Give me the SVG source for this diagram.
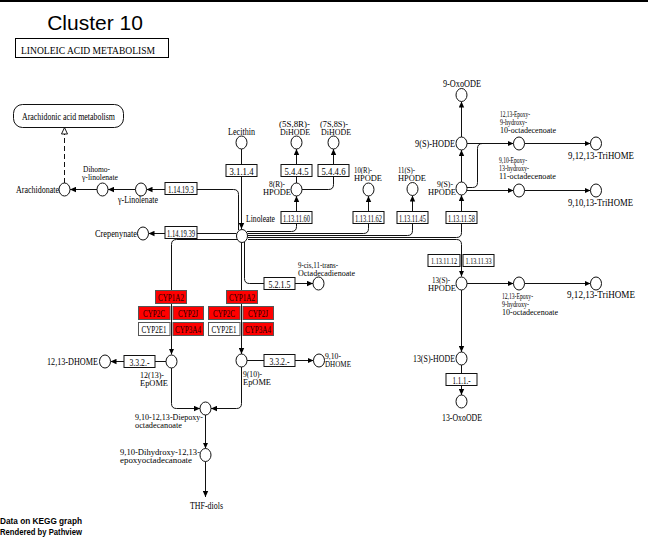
<svg xmlns="http://www.w3.org/2000/svg" width="648" height="544" viewBox="0 0 648 544">
<defs>
<marker id="ah" viewBox="0 0 6 6" refX="6" refY="3" markerWidth="6" markerHeight="6" markerUnits="userSpaceOnUse" orient="auto"><path d="M0,0.3 L6,3 L0,5.7 z" fill="#000"/></marker>
<marker id="oa" viewBox="0 0 8 8" refX="7.5" refY="4" markerWidth="8" markerHeight="8" markerUnits="userSpaceOnUse" orient="auto"><path d="M1,1 L7.5,4 L1,7 z" fill="#fff" stroke="#000" stroke-width="0.9"/></marker>
<style>
.ln{fill:none;stroke:#111;stroke-width:1}
.arr{marker-end:url(#ah)}
.dash{stroke-dasharray:5,3;marker-end:url(#oa)}
.cpd{fill:#fff;stroke:#111;stroke-width:1}
.ec{fill:#fff;stroke:#111;stroke-width:1}
.hit{fill:#ff0000;stroke:#555;stroke-width:1}
.nohit{fill:#fff;stroke:#555;stroke-width:1}
.t{font-family:"Liberation Serif","Times New Roman",serif;font-size:8px;fill:#000}
.s{font-size:9.5px}
.et{font-family:"Liberation Serif","Times New Roman",serif;font-size:10px;fill:#000;text-anchor:middle}
.et.sm{font-size:7.5px}
.ct{font-family:"Liberation Serif","Times New Roman",serif;font-size:10px;fill:#200;text-anchor:middle}
.hdr{font-family:"Liberation Serif","Times New Roman",serif;font-size:10px;fill:#000}
.credit{font-family:"Liberation Sans",Arial,sans-serif;font-size:8.5px;font-weight:bold;fill:#000}
</style>
</defs>
<rect x="0" y="0" width="648" height="544" fill="#fff"/>
<line x1="0" y1="1" x2="648" y2="1" stroke="#000" stroke-width="2"/>
<g id="title">
<text x="95" y="30" font-family="Liberation Sans, Arial, sans-serif" font-size="21" text-anchor="middle">Cluster 10</text>
<rect x="15.5" y="38.5" width="153" height="19" fill="#fff" stroke="#000"/>
<text x="21" y="54" class="hdr" textLength="134" lengthAdjust="spacingAndGlyphs">LINOLEIC ACID METABOLISM</text>
</g>

<g id="connectors">
<path class="ln arr" d="M241.5,149 V229"/>
<path class="ln arr" d="M238.5,230 V194.5 Q238.5,189.5 233.5,189.5 H146.5"/>
<path class="ln arr" d="M236.5,233.5 H148.5"/>
<path class="ln arr" d="M135.5,189.5 H108"/>
<path class="ln arr" d="M97,189.5 H70"/>
<path class="ln dash" d="M64.5,183 V127.5"/>
<path class="ln arr" d="M237,239.5 H176.5 Q171.5,239.5 171.5,244.5 V354.5"/>
<path class="ln arr" d="M241.5,243 V354"/>
<path class="ln arr" d="M244.5,242 V278.5 Q244.5,283.5 249.5,283.5 H313"/>
<path class="ln arr" d="M166,361.5 H110.5"/>
<path class="ln arr" d="M247,360.5 H313.5"/>
<path class="ln arr" d="M171.5,368 V403.5 Q171.5,408.5 176.5,408.5 H200"/>
<path class="ln arr" d="M241.5,367 V403.5 Q241.5,408.5 236.5,408.5 H211"/>
<path class="ln arr" d="M205.5,415 V448.5"/>
<path class="ln arr" d="M205.5,461.5 V497"/>
<path class="ln arr" d="M247,231.5 H291.5 Q296.5,231.5 296.5,226.5 V196"/>
<path class="ln arr" d="M296.5,183 V149"/>
<path class="ln arr" d="M302,189.5 H328.5 Q333.5,189.5 333.5,184.5 V149"/>
<path class="ln arr" d="M247.5,233.5 H363.5 Q368.5,233.5 368.5,228.5 V196"/>
<path class="ln arr" d="M248,235.5 H407.5 Q412.5,235.5 412.5,230.5 V195.5"/>
<path class="ln arr" d="M248,237.5 H456.5 Q461.5,237.5 461.5,232.5 V195"/>
<path class="ln arr" d="M248,239.5 H456.5 Q461.5,239.5 461.5,244.5 V276.5"/>
<path class="ln arr" d="M461.5,182 V150"/>
<path class="ln arr" d="M461.5,137 V101.5"/>
<path class="ln arr" d="M467,143.5 H513.5"/>
<path class="ln" d="M467,187.5 H472.5 Q477.5,187.5 477.5,182.5 V148.5 Q477.5,143.5 482.5,143.5"/>
<path class="ln arr" d="M467,190.5 H513.5"/>
<path class="ln arr" d="M524.5,143.5 H590.5"/>
<path class="ln arr" d="M524.5,190.5 H590.5"/>
<path class="ln arr" d="M467,283.5 H513.5"/>
<path class="ln arr" d="M524.5,283.5 H590.5"/>
<path class="ln arr" d="M461.5,290 V352"/>
<path class="ln arr" d="M461.5,365 V395"/>
</g>

<g id="map-arachidonic">
<rect x="13.5" y="104.5" width="110" height="23" rx="9" ry="9" fill="#fff" stroke="#111"/>
<text x="22" y="119.5" class="t s" textLength="93" lengthAdjust="spacingAndGlyphs">Arachidonic acid metabolism</text>
</g>

<g id="ec-3.1.1.4"><rect class="ec" x="226" y="164.5" width="31" height="12"/><text class="et" x="241.5" y="174.5" textLength="24" lengthAdjust="spacingAndGlyphs">3.1.1.4</text></g>
<g id="ec-5.4.4.5"><rect class="ec" x="281" y="164.5" width="31" height="12"/><text class="et" x="296.5" y="174.5" textLength="24" lengthAdjust="spacingAndGlyphs">5.4.4.5</text></g>
<g id="ec-5.4.4.6"><rect class="ec" x="318" y="164.5" width="31" height="12"/><text class="et" x="333.5" y="174.5" textLength="24" lengthAdjust="spacingAndGlyphs">5.4.4.6</text></g>
<g id="ec-1.13.11.60"><rect class="ec" x="281" y="211.5" width="31" height="12"/><text class="et" x="296.5" y="221.5" textLength="27" lengthAdjust="spacingAndGlyphs">1.13.11.60</text></g>
<g id="ec-1.13.11.62"><rect class="ec" x="353" y="211.5" width="31" height="12"/><text class="et" x="368.5" y="221.5" textLength="27" lengthAdjust="spacingAndGlyphs">1.13.11.62</text></g>
<g id="ec-1.13.11.45"><rect class="ec" x="397" y="211.5" width="31" height="12"/><text class="et" x="412.5" y="221.5" textLength="27" lengthAdjust="spacingAndGlyphs">1.13.11.45</text></g>
<g id="ec-1.13.11.58"><rect class="ec" x="446" y="211.5" width="31" height="12"/><text class="et" x="461.5" y="221.5" textLength="27" lengthAdjust="spacingAndGlyphs">1.13.11.58</text></g>
<g id="ec-1.13.11.12"><rect class="ec" x="428" y="254.5" width="32" height="12" stroke="#555"/><text class="et sm" x="444" y="263.5" textLength="26" lengthAdjust="spacingAndGlyphs">1.13.11.12</text></g>
<g id="ec-1.13.11.33"><rect class="ec" x="463" y="254.5" width="31" height="12" stroke="#555"/><text class="et sm" x="478.5" y="263.5" textLength="26" lengthAdjust="spacingAndGlyphs">1.13.11.33</text></g>
<g id="ec-1.1.1.-"><rect class="ec" x="446" y="373.5" width="31" height="12"/><text class="et" x="461.5" y="383.5" textLength="18" lengthAdjust="spacingAndGlyphs">1.1.1.-</text></g>
<g id="ec-1.14.19.3"><rect class="ec" x="165" y="182.5" width="32" height="12"/><text class="et" x="181" y="192.5" textLength="26" lengthAdjust="spacingAndGlyphs">1.14.19.3</text></g>
<g id="ec-1.14.19.39"><rect class="ec" x="165" y="226.5" width="32" height="12"/><text class="et" x="181" y="236.5" textLength="28" lengthAdjust="spacingAndGlyphs">1.14.19.39</text></g>
<g id="ec-5.2.1.5"><rect class="ec" x="264" y="277.5" width="31" height="12"/><text class="et" x="279.5" y="287.5" textLength="22" lengthAdjust="spacingAndGlyphs">5.2.1.5</text></g>
<g id="ec-3.3.2.-a"><rect class="ec" x="124" y="355.5" width="31" height="12"/><text class="et" x="139.5" y="365.5" textLength="20" lengthAdjust="spacingAndGlyphs">3.3.2.-</text></g>
<g id="ec-3.3.2.-b"><rect class="ec" x="264" y="354.5" width="31" height="12"/><text class="et" x="279.5" y="364.5" textLength="20" lengthAdjust="spacingAndGlyphs">3.3.2.-</text></g>

<g id="cyp-left">
<rect class="hit" x="155.5" y="290.5" width="31" height="13"/><text class="ct" x="171" y="300.5" textLength="26" lengthAdjust="spacingAndGlyphs">CYP1A2</text>
<rect class="hit" x="138.5" y="306.5" width="31.5" height="13"/><text class="ct" x="154" y="316.5" textLength="22" lengthAdjust="spacingAndGlyphs">CYP2C</text>
<rect class="hit" x="173" y="306.5" width="30.5" height="13"/><text class="ct" x="188" y="316.5" textLength="20" lengthAdjust="spacingAndGlyphs">CYP2J</text>
<rect class="nohit" x="138.5" y="322.5" width="31.5" height="13"/><text class="et" x="154" y="332.5" textLength="25" lengthAdjust="spacingAndGlyphs">CYP2E1</text>
<rect class="hit" x="173" y="322.5" width="30.5" height="13"/><text class="ct" x="188" y="332.5" textLength="26" lengthAdjust="spacingAndGlyphs">CYP3A4</text>
</g>
<g id="cyp-right">
<rect class="hit" x="226.5" y="290.5" width="31" height="13"/><text class="ct" x="242" y="300.5" textLength="26" lengthAdjust="spacingAndGlyphs">CYP1A2</text>
<rect class="hit" x="208.5" y="306.5" width="31.5" height="13"/><text class="ct" x="224" y="316.5" textLength="22" lengthAdjust="spacingAndGlyphs">CYP2C</text>
<rect class="hit" x="243" y="306.5" width="30.5" height="13"/><text class="ct" x="258" y="316.5" textLength="20" lengthAdjust="spacingAndGlyphs">CYP2J</text>
<rect class="nohit" x="208.5" y="322.5" width="31.5" height="13"/><text class="et" x="224" y="332.5" textLength="25" lengthAdjust="spacingAndGlyphs">CYP2E1</text>
<rect class="hit" x="243" y="322.5" width="30.5" height="13"/><text class="ct" x="258" y="332.5" textLength="26" lengthAdjust="spacingAndGlyphs">CYP3A4</text>
</g>

<g id="lecithin"><ellipse class="cpd" cx="241.5" cy="142.5" rx="5.5" ry="6.5"/><text class="t s" x="228" y="135" textLength="27" lengthAdjust="spacingAndGlyphs">Lecithin</text></g>
<g id="dihode-5s8r"><ellipse class="cpd" cx="296.5" cy="142.5" rx="5.5" ry="6.5"/><text class="t" x="279" y="127" textLength="31" lengthAdjust="spacingAndGlyphs">(5S,8R)-</text><text class="t" x="280" y="135" textLength="30" lengthAdjust="spacingAndGlyphs">DiHODE</text></g>
<g id="dihode-7s8s"><ellipse class="cpd" cx="333.5" cy="142.5" rx="5.5" ry="6.5"/><text class="t" x="320" y="127" textLength="28" lengthAdjust="spacingAndGlyphs">(7S,8S)-</text><text class="t" x="321" y="135" textLength="30" lengthAdjust="spacingAndGlyphs">DiHODE</text></g>
<g id="hpode-8r"><ellipse class="cpd" cx="296.5" cy="189.5" rx="5.5" ry="6.5"/><text class="t" x="269" y="186.5" textLength="16" lengthAdjust="spacingAndGlyphs">8(R)-</text><text class="t" x="263" y="195" textLength="28" lengthAdjust="spacingAndGlyphs">HPODE</text></g>
<g id="hpode-10r"><ellipse class="cpd" cx="368.5" cy="189.5" rx="5.5" ry="6.5"/><text class="t" x="354" y="173" textLength="18" lengthAdjust="spacingAndGlyphs">10(R)-</text><text class="t" x="354" y="181" textLength="28" lengthAdjust="spacingAndGlyphs">HPODE</text></g>
<g id="hpode-11s"><ellipse class="cpd" cx="412.5" cy="189" rx="5.5" ry="6.5"/><text class="t" x="398" y="173" textLength="17" lengthAdjust="spacingAndGlyphs">11(S)-</text><text class="t" x="398" y="181" textLength="28" lengthAdjust="spacingAndGlyphs">HPODE</text></g>
<g id="hpode-9s"><ellipse class="cpd" cx="461.5" cy="188.5" rx="5.5" ry="6.5"/><text class="t" x="437" y="186.5" textLength="16" lengthAdjust="spacingAndGlyphs">9(S)-</text><text class="t" x="428" y="195" textLength="28" lengthAdjust="spacingAndGlyphs">HPODE</text></g>
<g id="hode-9s"><ellipse class="cpd" cx="461.5" cy="143.5" rx="5.5" ry="6.5"/><text class="t s" x="415" y="147" textLength="40" lengthAdjust="spacingAndGlyphs">9(S)-HODE</text></g>
<g id="oxoode-9"><ellipse class="cpd" cx="461.5" cy="95" rx="5.5" ry="6.5"/><text class="t s" x="443" y="87" textLength="38" lengthAdjust="spacingAndGlyphs">9-OxoODE</text></g>
<g id="epoxy-9-hydroxy-a"><ellipse class="cpd" cx="519" cy="143.5" rx="5.5" ry="6.5"/><text class="t" x="500" y="117" textLength="30" lengthAdjust="spacingAndGlyphs">12,13-Epoxy-</text><text class="t" x="500" y="125" textLength="27" lengthAdjust="spacingAndGlyphs">9-hydroxy-</text><text class="t" x="500" y="133" textLength="56" lengthAdjust="spacingAndGlyphs">10-octadecenoate</text></g>
<g id="trihome-a"><ellipse class="cpd" cx="596" cy="143.5" rx="5.5" ry="6.5"/><text class="t s" x="568" y="159" textLength="66" lengthAdjust="spacingAndGlyphs">9,12,13-TriHOME</text></g>
<g id="epoxy-13-hydroxy"><ellipse class="cpd" cx="519" cy="190.5" rx="5.5" ry="6.5"/><text class="t" x="499" y="163" textLength="28" lengthAdjust="spacingAndGlyphs">9,10-Epoxy-</text><text class="t" x="499" y="171" textLength="30" lengthAdjust="spacingAndGlyphs">13-hydroxy-</text><text class="t" x="499" y="179" textLength="57" lengthAdjust="spacingAndGlyphs">11-octadecenoate</text></g>
<g id="trihome-b"><ellipse class="cpd" cx="596" cy="190.5" rx="5.5" ry="6.5"/><text class="t s" x="568" y="206" textLength="65" lengthAdjust="spacingAndGlyphs">9,10,13-TriHOME</text></g>
<g id="linoleate"><ellipse class="cpd" cx="242" cy="236" rx="5.5" ry="6.5"/><text class="t s" x="246" y="222" textLength="29" lengthAdjust="spacingAndGlyphs">Linoleate</text></g>
<g id="arachidonate"><ellipse class="cpd" cx="64.5" cy="189.5" rx="5.5" ry="6.5"/><text class="t s" x="16" y="193" textLength="43" lengthAdjust="spacingAndGlyphs">Arachidonate</text></g>
<g id="dihomo-linolenate"><ellipse class="cpd" cx="102.5" cy="189.5" rx="5.5" ry="6.5"/><text class="t" x="83" y="172" textLength="27" lengthAdjust="spacingAndGlyphs">Dihomo-</text><text class="t" x="82" y="180" textLength="36" lengthAdjust="spacingAndGlyphs">γ-linolenate</text></g>
<g id="gamma-linolenate"><ellipse class="cpd" cx="141" cy="189.5" rx="5.5" ry="6.5"/><text class="t s" x="118" y="203" textLength="40" lengthAdjust="spacingAndGlyphs">γ-Linolenate</text></g>
<g id="crepenynate"><ellipse class="cpd" cx="143" cy="233.5" rx="5.5" ry="6.5"/><text class="t s" x="95" y="237" textLength="42" lengthAdjust="spacingAndGlyphs">Crepenynate</text></g>
<g id="octadecadienoate"><ellipse class="cpd" cx="318.5" cy="283.5" rx="5.5" ry="6.5"/><text class="t" x="298" y="267.5" textLength="40" lengthAdjust="spacingAndGlyphs">9-cis,11-trans-</text><text class="t" x="298" y="275.5" textLength="57" lengthAdjust="spacingAndGlyphs">Octadecadienoate</text></g>
<g id="hpode-13s"><ellipse class="cpd" cx="461.5" cy="283.5" rx="5.5" ry="6.5"/><text class="t" x="432" y="282.5" textLength="18" lengthAdjust="spacingAndGlyphs">13(S)-</text><text class="t" x="428" y="290.5" textLength="28" lengthAdjust="spacingAndGlyphs">HPODE</text></g>
<g id="epoxy-9-hydroxy-b"><ellipse class="cpd" cx="519" cy="283.5" rx="5.5" ry="6.5"/><text class="t" x="502" y="298.5" textLength="31" lengthAdjust="spacingAndGlyphs">12,13-Epoxy-</text><text class="t" x="502" y="306.5" textLength="27" lengthAdjust="spacingAndGlyphs">9-hydroxy-</text><text class="t" x="502" y="314.5" textLength="56" lengthAdjust="spacingAndGlyphs">10-octadecenoate</text></g>
<g id="trihome-c"><ellipse class="cpd" cx="596" cy="283.5" rx="5.5" ry="6.5"/><text class="t s" x="567" y="297.5" textLength="68" lengthAdjust="spacingAndGlyphs">9,12,13-TriHOME</text></g>
<g id="hode-13s"><ellipse class="cpd" cx="461.5" cy="358.5" rx="5.5" ry="6.5"/><text class="t s" x="413" y="362" textLength="42" lengthAdjust="spacingAndGlyphs">13(S)-HODE</text></g>
<g id="oxoode-13"><ellipse class="cpd" cx="461.5" cy="401.5" rx="5.5" ry="6.5"/><text class="t s" x="442" y="421" textLength="40" lengthAdjust="spacingAndGlyphs">13-OxoODE</text></g>
<g id="epome-12-13"><ellipse class="cpd" cx="171.5" cy="361.5" rx="5.5" ry="6.5"/><text class="t" x="140" y="378" textLength="24" lengthAdjust="spacingAndGlyphs">12(13)-</text><text class="t" x="140" y="386" textLength="28" lengthAdjust="spacingAndGlyphs">EpOME</text></g>
<g id="epome-9-10"><ellipse class="cpd" cx="241.5" cy="360.5" rx="5.5" ry="6.5"/><text class="t" x="243" y="377" textLength="19" lengthAdjust="spacingAndGlyphs">9(10)-</text><text class="t" x="243" y="385" textLength="28" lengthAdjust="spacingAndGlyphs">EpOME</text></g>
<g id="dhome-12-13"><ellipse class="cpd" cx="105" cy="361.5" rx="5.5" ry="6.5"/><text class="t s" x="47" y="365" textLength="51" lengthAdjust="spacingAndGlyphs">12,13-DHOME</text></g>
<g id="dhome-9-10"><ellipse class="cpd" cx="319" cy="360.5" rx="5.5" ry="6.5"/><text class="t" x="325" y="359" textLength="16" lengthAdjust="spacingAndGlyphs">9,10-</text><text class="t" x="325" y="367" textLength="26" lengthAdjust="spacingAndGlyphs">DHOME</text></g>
<g id="diepoxy"><ellipse class="cpd" cx="205.5" cy="408.5" rx="5.5" ry="6.5"/><text class="t" x="135" y="420" textLength="68" lengthAdjust="spacingAndGlyphs">9,10-12,13-Diepoxy-</text><text class="t" x="135" y="428" textLength="47" lengthAdjust="spacingAndGlyphs">octadecanoate</text></g>
<g id="dihydroxy"><ellipse class="cpd" cx="205.5" cy="455" rx="5.5" ry="6.5"/><text class="t" x="120" y="455" textLength="80" lengthAdjust="spacingAndGlyphs">9,10-Dihydroxy-12,13-</text><text class="t" x="120" y="463" textLength="72" lengthAdjust="spacingAndGlyphs">epoxyoctadecanoate</text></g>
<g id="thf-diols"><text class="t s" x="190" y="509" textLength="33" lengthAdjust="spacingAndGlyphs">THF-diols</text></g>

<g id="credits">
<text class="credit" x="0" y="524" textLength="82" lengthAdjust="spacingAndGlyphs">Data on KEGG graph</text>
<text class="credit" x="0" y="535" textLength="82" lengthAdjust="spacingAndGlyphs">Rendered by Pathview</text>
</g>
</svg>
